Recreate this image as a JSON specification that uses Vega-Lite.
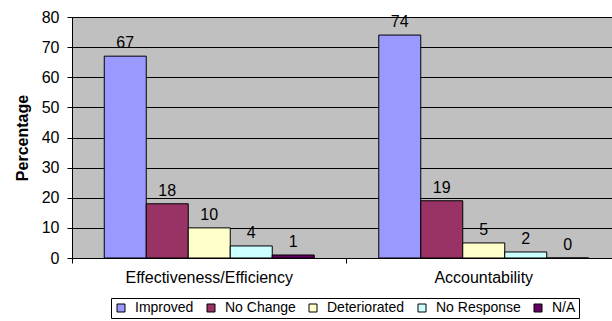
{
  "$schema": "https://vega.github.io/schema/vega-lite/v6.json",
  "autosize": {"type": "none"},
  "width": 540,
  "height": 241,
  "padding": {"left": 72, "top": 17, "right": 0, "bottom": 63},
  "background": "white",
  "config": {
    "font": "Liberation Sans",
    "view": {"fill": "#C0C0C0", "stroke": null},
    "axis": {
      "labelFont": "Liberation Sans",
      "labelFontSize": 16,
      "labelColor": "black",
      "domainColor": "black",
      "tickColor": "black",
      "titleFont": "Liberation Sans"
    },
    "legend": {
      "labelFont": "Liberation Sans",
      "labelFontSize": 14,
      "labelColor": "black"
    }
  },
  "data": {
    "values": [
      {"area": "Effectiveness/Efficiency", "response": "Improved", "pct": 67},
      {"area": "Effectiveness/Efficiency", "response": "No Change", "pct": 18},
      {"area": "Effectiveness/Efficiency", "response": "Deteriorated", "pct": 10},
      {"area": "Effectiveness/Efficiency", "response": "No Response", "pct": 4},
      {"area": "Effectiveness/Efficiency", "response": "N/A", "pct": 1},
      {"area": "Accountability", "response": "Improved", "pct": 74},
      {"area": "Accountability", "response": "No Change", "pct": 19},
      {"area": "Accountability", "response": "Deteriorated", "pct": 5},
      {"area": "Accountability", "response": "No Response", "pct": 2},
      {"area": "Accountability", "response": "N/A", "pct": 0}
    ]
  },
  "encoding": {
    "x": {
      "field": "area",
      "type": "nominal",
      "sort": ["Effectiveness/Efficiency", "Accountability"],
      "scale": {"range": [0, 549], "paddingInner": 0, "paddingOuter": 0},
      "axis": {
        "title": null,
        "labelAngle": 0,
        "bandPosition": 0,
        "tickSize": 5,
        "labelPadding": 6,
        "domainWidth": 1,
        "grid": false
      }
    },
    "xOffset": {
      "field": "response",
      "type": "nominal",
      "sort": ["Improved", "No Change", "Deteriorated", "No Response", "N/A"],
      "scale": {"paddingInner": 0, "paddingOuter": 0.768}
    },
    "y": {
      "field": "pct",
      "type": "quantitative",
      "scale": {"domain": [0, 80]},
      "axis": {
        "title": "Percentage",
        "titleFontSize": 16,
        "titleFontWeight": "bold",
        "titleColor": "black",
        "titlePadding": 11,
        "values": [0, 10, 20, 30, 40, 50, 60, 70, 80],
        "tickSize": 5,
        "labelPadding": 8,
        "grid": true,
        "gridColor": "black",
        "gridOpacity": 1,
        "gridWidth": 1
      }
    }
  },
  "layer": [
    {
      "mark": {"type": "bar", "stroke": "black", "strokeWidth": 1},
      "encoding": {
        "color": {
          "field": "response",
          "type": "nominal",
          "sort": ["Improved", "No Change", "Deteriorated", "No Response", "N/A"],
          "scale": {
            "domain": ["Improved", "No Change", "Deteriorated", "No Response", "N/A"],
            "range": ["#9999FF", "#993366", "#FFFFCC", "#CCFFFF", "#660066"]
          },
          "legend": {
            "title": null,
            "orient": "none",
            "legendX": 39,
            "legendY": 281,
            "direction": "horizontal",
            "columns": 5,
            "symbolType": "square",
            "symbolSize": 64,
            "symbolStrokeColor": "black",
            "symbolStrokeWidth": 1,
            "symbolOpacity": 1,
            "columnPadding": 10,
            "labelOffset": 7,
            "strokeColor": "black",
            "padding": 3
          }
        }
      }
    },
    {
      "mark": {"type": "text", "baseline": "alphabetic", "dy": -8, "fontSize": 16, "color": "black"},
      "encoding": {
        "text": {"field": "pct", "type": "quantitative"}
      }
    }
  ]
}
